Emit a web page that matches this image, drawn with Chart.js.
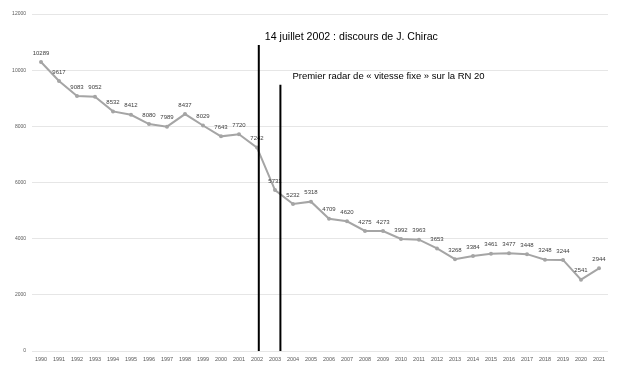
<!DOCTYPE html>
<html><head><meta charset="utf-8">
<script src="https://cdn.jsdelivr.net/npm/chart.js@4/dist/chart.umd.min.js"></script>
<style>html,body{margin:0;padding:0;background:#fff}#w{width:636px;height:378px}</style>
</head><body><div id="w"><canvas id="c"></canvas></div>
<script>
const years = ['1990','1991','1992','1993','1994','1995','1996','1997','1998','1999','2000','2001','2002','2003','2004','2005','2006','2007','2008','2009','2010','2011','2012','2013','2014','2015','2016','2017','2018','2019','2020','2021'];
const deaths = [10289,9617,9083,9052,8532,8412,8080,7989,8437,8029,7643,7720,7242,5731,5232,5318,4709,4620,4275,4273,3992,3963,3653,3268,3384,3461,3477,3448,3248,3244,2541,2944];
const yTicks = [0,2000,4000,6000,8000,10000,12000];
const eventTexts = ['14 juillet 2002 : discours de J. Chirac','Premier radar de « vitesse fixe » sur la RN 20'];
const eventPos = [12.1, 13.3];     // position along the year axis (index units)
const eventTop = [10900, 9480];    // top of the marker line, in y units

const labelPlugin = {
  id:'labels',
  afterDatasetsDraw(chart){
    const ctx = chart.ctx, meta = chart.getDatasetMeta(0);
    ctx.save();
    ctx.font = '6px "Liberation Sans", Arial, sans-serif';
    ctx.fillStyle = '#404040';
    ctx.textAlign = 'center'; ctx.textBaseline = 'bottom';
    meta.data.forEach((p,i)=>{ ctx.fillText(String(deaths[i]), p.x, p.y-6); });
    ctx.restore();
    const xs = chart.scales.x, ys = chart.scales.y;
    ctx.save();
    ctx.strokeStyle = '#000'; ctx.lineWidth = 2;
    eventPos.forEach((v,i)=>{
      const x = xs.getPixelForValue(v);
      ctx.beginPath(); ctx.moveTo(x, ys.getPixelForValue(eventTop[i])); ctx.lineTo(x, ys.getPixelForValue(0)); ctx.stroke();
    });
    ctx.fillStyle = '#000'; ctx.textBaseline = 'middle'; ctx.textAlign = 'left';
    ctx.font = '10.6px "Liberation Sans", Arial, sans-serif';
    ctx.fillText(eventTexts[0], xs.getPixelForValue(eventPos[0]) + 6, ys.getPixelForValue(eventTop[0]) - 8);
    ctx.font = '9.5px "Liberation Sans", Arial, sans-serif';
    ctx.fillText(eventTexts[1], xs.getPixelForValue(eventPos[1]) + 12, ys.getPixelForValue(eventTop[1]) - 8);
    ctx.restore();
  }
};

new Chart(document.getElementById('c'), {
  type:'line',
  data:{ labels: years, datasets:[{ data: deaths, borderColor:'#a5a5a5', backgroundColor:'#a5a5a5', borderWidth:2, pointRadius:2, pointBorderWidth:0, tension:0 }]},
  options:{
    responsive:true, maintainAspectRatio:false, animation:false,
    layout:{ padding:{ left:0, right:28, top:14, bottom:0 } },
    plugins:{ legend:{display:false}, tooltip:{enabled:false} },
    scales:{
      x:{ offset:true, grid:{display:false, drawTicks:false}, border:{display:false},
          ticks:{ color:'#595959', font:{size:5.5, family:'"Liberation Sans", Arial, sans-serif'}, maxRotation:0, autoSkip:false, padding:5 },
          afterFit(s){ s.height = 27; } },
      y:{ min:0, max:12000, afterBuildTicks(s){ s.ticks = yTicks.map(v=>({value:v})); },
          grid:{ color:'#e6e6e6', drawTicks:false }, border:{display:false},
          ticks:{ color:'#595959', font:{size:5, family:'"Liberation Sans", Arial, sans-serif'}, padding:6, callback:(v)=>String(v) },
          afterFit(s){ s.width = 32; } }
    }
  },
  plugins:[labelPlugin]
});
</script></body></html>
